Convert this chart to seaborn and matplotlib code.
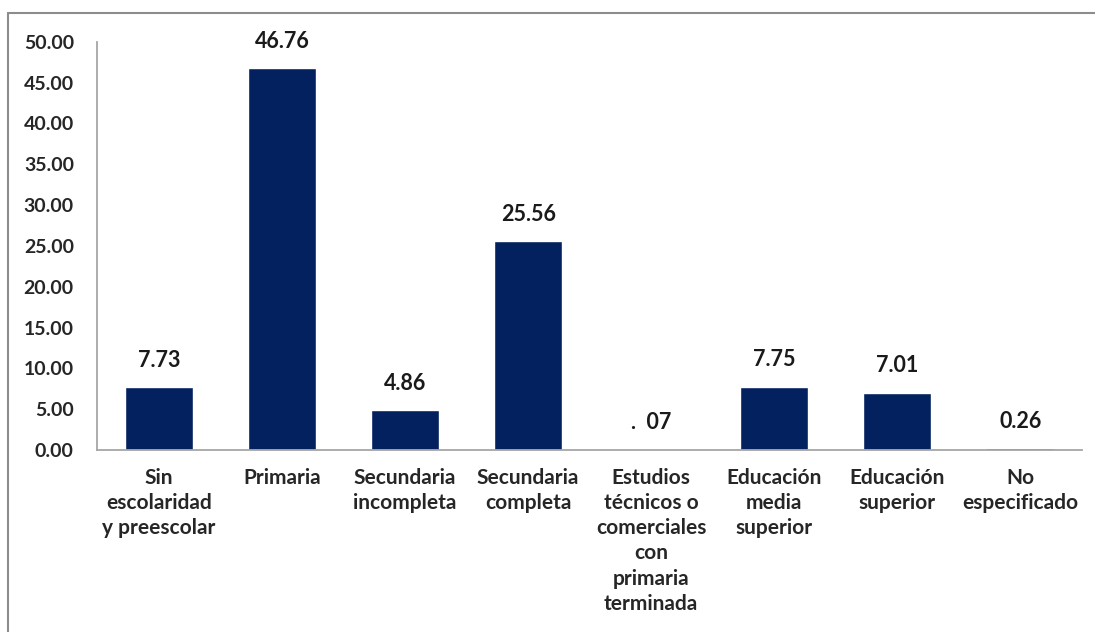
import matplotlib
matplotlib.use('Agg')
import matplotlib.pyplot as plt
from matplotlib.lines import Line2D
import seaborn as sns
import pandas as pd

# ── data ───────────────────────────────────────────────────────────────────────

categories = [
    'Sin\nescolaridad\ny preescolar',
    'Primaria',
    'Secundaria\nincompleta',
    'Secundaria\ncompleta',
    'Estudios\ntécnicos o\ncomerciales\ncon\nprimaria\nterminada',
    'Educación\nmedia\nsuperior',
    'Educación\nsuperior',
    'No\nespecificado',
]
values = [7.73, 46.76, 4.86, 25.56, 0.07, 7.75, 7.01, 0.26]
value_labels = ['7.73', '46.76', '4.86', '25.56', '.  07', '7.75', '7.01', '0.26']
y_ticks = [0, 5, 10, 15, 20, 25, 30, 35, 40, 45, 50]

BAR_COLOR = '#03215E'
FONT = ['Lato', 'DejaVu Sans']

# ── plot ───────────────────────────────────────────────────────────────────────

sns.set_style('white')
plt.rcParams['font.family'] = FONT

df = pd.DataFrame({'categoria': categories, 'valor': values})

fig = plt.figure(figsize=(10.95, 6.32), dpi=100)
ax = fig.add_axes([0.089, 0.288, 0.899, 0.646])

sns.barplot(data=df, x='categoria', y='valor', color=BAR_COLOR,
            width=0.55, saturation=1, ax=ax)

ax.set_ylim(0, 50)
ax.set_yticks(y_ticks)
ax.set_yticklabels([f'{t:.2f}' for t in y_ticks], fontsize=14, fontweight='bold')
ax.set_xticks(range(len(categories)))
ax.set_xticklabels(categories, fontsize=15, fontweight='bold', linespacing=1.32)
ax.tick_params(axis='x', length=0, pad=13)
ax.tick_params(axis='y', length=0, pad=17)
ax.set_xlabel('')
ax.set_ylabel('')

for side in ['top', 'right']:
    ax.spines[side].set_visible(False)
for side in ['left', 'bottom']:
    ax.spines[side].set_color('#A6A6A6')
    ax.spines[side].set_linewidth(1.3)

for i, (v, lab) in enumerate(zip(values, value_labels)):
    ax.text(i, v + 2.0, lab, ha='center', va='bottom',
            fontsize=15.5, fontweight='bold', color='#1a1a1a')

# outer chart frame (top and left edges visible)
fig.add_artist(Line2D([8 / 1095, 1], [1 - 13 / 632, 1 - 13 / 632],
                      transform=fig.transFigure, color='#8C8C8C', lw=1.5))
fig.add_artist(Line2D([8 / 1095, 8 / 1095], [0, 1 - 13 / 632],
                      transform=fig.transFigure, color='#8C8C8C', lw=1.5))

fig.savefig('out.png', dpi=100)
